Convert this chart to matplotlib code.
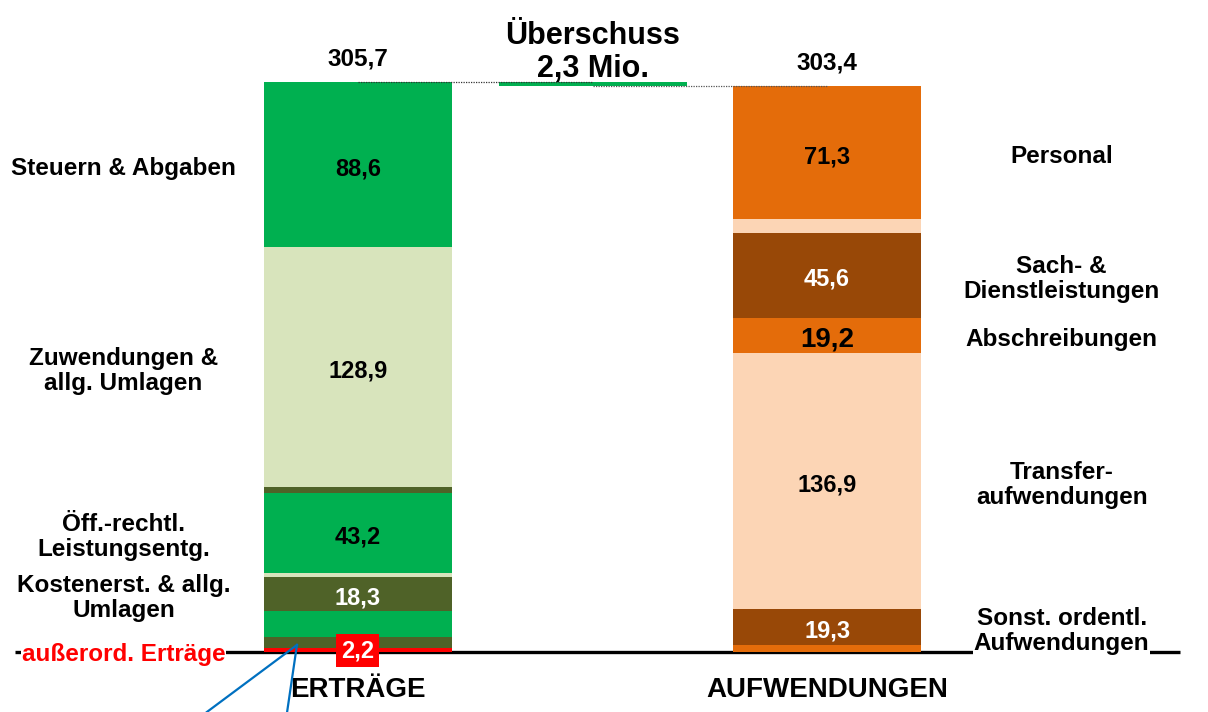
import matplotlib.pyplot as plt

plt.rcParams['font.family'] = ['Liberation Sans', 'DejaVu Sans']

# Erträge, von unten nach oben (Mio.)
ertrag_values = [2.2, 5.6, 14.1, 18.3, 2.0, 43.2, 2.8, 128.9, 88.6]
ertrag_colors = ['#FF0000', '#4F6228', '#00B050', '#4F6228', '#D8E4BC',
                 '#00B050', '#4F6228', '#D8E4BC', '#00B050']
ertrag_labels = ['', '', '', '18,3', '', '43,2', '', '128,9', '88,6']
ertrag_names = {0: 'außerord. Erträge', 3: 'Kostenerst. & allg.\nUmlagen',
                5: 'Öff.-rechtl.\nLeistungsentg.', 7: 'Zuwendungen &\nallg. Umlagen',
                8: 'Steuern & Abgaben'}

# Aufwendungen, von unten nach oben (Mio.)
aufwand_values = [3.9, 19.3, 136.9, 19.2, 45.6, 7.2, 71.3]
aufwand_colors = ['#E46C0A', '#984807', '#FCD5B5', '#E46C0A', '#984807',
                  '#FCD5B5', '#E46C0A']
aufwand_labels = ['', '19,3', '136,9', '19,2', '45,6', '', '71,3']
aufwand_names = {1: 'Sonst. ordentl.\nAufwendungen', 2: 'Transfer-\naufwendungen',
                 3: 'Abschreibungen', 4: 'Sach- &\nDienstleistungen', 6: 'Personal'}

total_ertrag = 305.7
total_aufwand = 303.4
ueberschuss = 2.3

white_text = {'#4F6228', '#984807'}

fig = plt.figure(figsize=(12.08, 7.12), dpi=100)
ax = fig.add_axes([0, 0, 1, 1])
ax.set_xlim(-0.763, 1.812)
ax.set_ylim(-32.2, 349.6)
ax.axis('off')

w = 0.4
dy = -2.2  # Beschriftung leicht unter der Segmentmitte


def draw_stack(x, values, colors, labels, names, name_x):
    bottom = 0
    for i, (v, c, lab) in enumerate(zip(values, colors, labels)):
        ax.bar(x, v, width=w, bottom=bottom, color=c, edgecolor='none', zorder=2)
        mid = bottom + v / 2 + dy
        if lab:
            size = 20 if lab == '19,2' else 17
            col = 'white' if c in white_text else 'black'
            ax.text(x, mid, lab, ha='center', va='center', fontsize=size,
                    fontweight='bold', color=col, zorder=4)
        if i in names:
            ax.text(name_x, mid, names[i], ha='center', va='center', fontsize=17.5,
                    fontweight='bold', color='black', linespacing=1.1, zorder=4,
                    bbox=dict(facecolor='white', edgecolor='none', pad=0.5))
        bottom += v


draw_stack(0, ertrag_values, ertrag_colors, ertrag_labels, ertrag_names, -0.5)
draw_stack(1, aufwand_values, aufwand_colors, aufwand_labels, aufwand_names, 1.5)

# Überschuss
ax.bar(0.501, ueberschuss, width=w, bottom=total_aufwand, color='#00B050',
       edgecolor='none', zorder=2)
ax.plot([0, 0.5], [total_ertrag, total_ertrag], color='#333333', lw=0.9,
        ls=(0, (1, 1)), zorder=3)
ax.plot([0.5, 1.0], [total_aufwand, total_aufwand], color='#555555', lw=0.9,
        ls=(0, (1, 1)), zorder=3)

ax.text(0, total_ertrag + 6, '305,7', ha='center', va='bottom', fontsize=17.5,
        fontweight='bold')
ax.text(1, total_aufwand + 6, '303,4', ha='center', va='bottom', fontsize=17.5,
        fontweight='bold')
ax.text(0.5, total_ertrag - 1.2, 'Überschuss\n2,3 Mio.', ha='center', va='bottom',
        fontsize=22, fontweight='bold', linespacing=1.15)

# Grundlinie
ax.plot([-0.731, 1.753], [0, 0], color='black', lw=2.4, zorder=1,
        solid_capstyle='butt')

# außerordentliche Erträge in Rot
for t in ax.texts:
    if t.get_text() == 'außerord. Erträge':
        t.set_color('#FF0000')
        t.set_position((-0.5, -1.5))
ax.text(0, 0.6, '2,2', ha='center', va='center', fontsize=17,
        fontweight='bold', color='white', zorder=5,
        bbox=dict(facecolor='#FF0000', edgecolor='none', pad=3.5))

# Hinweislinien
ax.plot([-0.322, -0.130], [-32.2, 3.75], color='#0070C0', lw=1.6, zorder=5)
ax.plot([-0.151, -0.130], [-32.2, 3.75], color='#0070C0', lw=1.6, zorder=5)

ax.text(0, -20.5, 'ERTRÄGE', ha='center', va='center', fontsize=20,
        fontweight='bold')
ax.text(1, -20.5, 'AUFWENDUNGEN', ha='center', va='center', fontsize=20,
        fontweight='bold')

fig.savefig('out.png', dpi=100)
